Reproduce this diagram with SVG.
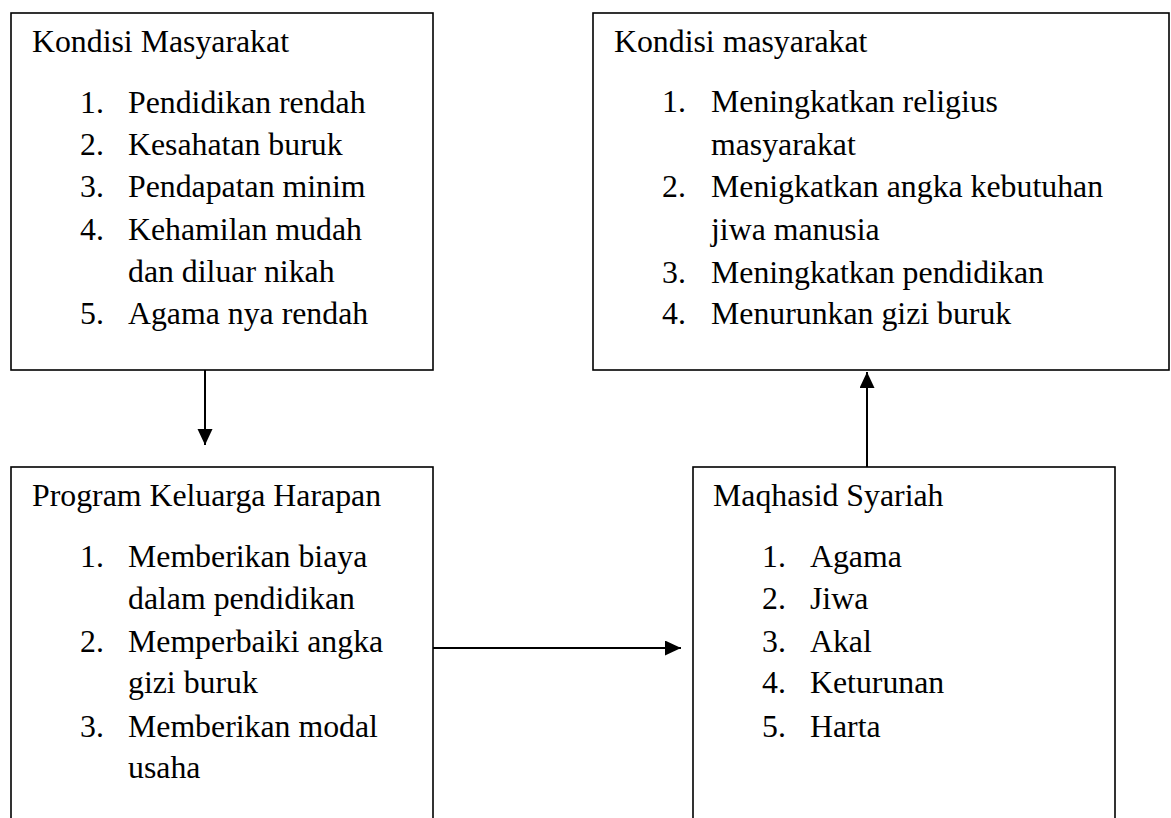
<svg xmlns="http://www.w3.org/2000/svg" width="1171" height="818" viewBox="0 0 1171 818">
<defs>
<style>
.box{fill:#fff;stroke:#000;stroke-width:1.6}
.t{font-family:"Liberation Serif","Times New Roman",serif;font-size:31.8px;fill:#000}
.c{stroke:#000;stroke-width:2;fill:none}
</style>
<marker id="ah" markerUnits="userSpaceOnUse" markerWidth="16" markerHeight="16" refX="16" refY="7.5" orient="auto">
<path d="M0,0 L16,7.5 L0,15 z" fill="#000"/>
</marker>
</defs>
<rect width="1171" height="818" fill="#fff"/>
<g id="kondisi-awal">
<rect class="box" x="11" y="13" width="422" height="357"/>
<text class="t" x="32" y="52">Kondisi Masyarakat</text>
<text class="t" x="80" y="113">1.</text><text class="t" x="128" y="113">Pendidikan rendah</text>
<text class="t" x="80" y="155">2.</text><text class="t" x="128" y="155">Kesahatan buruk</text>
<text class="t" x="80" y="197">3.</text><text class="t" x="128" y="197">Pendapatan minim</text>
<text class="t" x="80" y="240">4.</text><text class="t" x="128" y="240">Kehamilan mudah</text>
<text class="t" x="128" y="282">dan diluar nikah</text>
<text class="t" x="80" y="324">5.</text><text class="t" x="128" y="324">Agama nya rendah</text>
</g>
<g id="kondisi-akhir">
<rect class="box" x="593" y="13" width="576" height="357"/>
<text class="t" x="614" y="52">Kondisi masyarakat</text>
<text class="t" x="662" y="112">1.</text><text class="t" x="711" y="112">Meningkatkan religius</text>
<text class="t" x="711" y="155">masyarakat</text>
<text class="t" x="662" y="197">2.</text><text class="t" x="711" y="197">Menigkatkan angka kebutuhan</text>
<text class="t" x="711" y="240">jiwa manusia</text>
<text class="t" x="662" y="283">3.</text><text class="t" x="711" y="283">Meningkatkan pendidikan</text>
<text class="t" x="662" y="324">4.</text><text class="t" x="711" y="324">Menurunkan gizi buruk</text>
</g>
<g id="pkh">
<rect class="box" x="11" y="467" width="422" height="370"/>
<text class="t" x="32" y="506">Program Keluarga Harapan</text>
<text class="t" x="80" y="567">1.</text><text class="t" x="128" y="567">Memberikan biaya</text>
<text class="t" x="128" y="609">dalam pendidikan</text>
<text class="t" x="80" y="652">2.</text><text class="t" x="128" y="652">Memperbaiki angka</text>
<text class="t" x="128" y="693">gizi buruk</text>
<text class="t" x="80" y="737">3.</text><text class="t" x="128" y="737">Memberikan modal</text>
<text class="t" x="128" y="778">usaha</text>
</g>
<g id="maqhasid">
<rect class="box" x="693" y="467" width="422" height="370"/>
<text class="t" x="713" y="506">Maqhasid Syariah</text>
<text class="t" x="762" y="567">1.</text><text class="t" x="810" y="567">Agama</text>
<text class="t" x="762" y="609">2.</text><text class="t" x="810" y="609">Jiwa</text>
<text class="t" x="762" y="652">3.</text><text class="t" x="810" y="652">Akal</text>
<text class="t" x="762" y="693">4.</text><text class="t" x="810" y="693">Keturunan</text>
<text class="t" x="762" y="737">5.</text><text class="t" x="810" y="737">Harta</text>
</g>
<g id="connectors">
<line class="c" x1="205" y1="370" x2="205" y2="445" marker-end="url(#ah)"/>
<line class="c" x1="433" y1="648" x2="681" y2="648" marker-end="url(#ah)"/>
<line class="c" x1="867" y1="467" x2="867" y2="372" marker-end="url(#ah)"/>
</g>
</svg>
